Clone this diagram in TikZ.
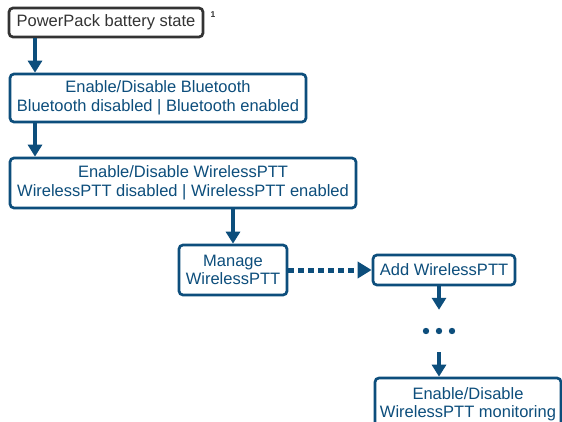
\documentclass[tikz,border=0pt]{standalone}
\usepackage{fontspec}
\setmainfont{Liberation Sans}
\usetikzlibrary{arrows.meta,calc}
\definecolor{mblue}{HTML}{0D4E7C}
\definecolor{mgray}{HTML}{333333}
\begin{document}
\begin{tikzpicture}[x=1pt,y=1pt,
  box/.style={draw=mblue,text=mblue,line width=2.7pt,rounded corners=4pt,align=center,inner sep=0pt,
    font=\fontsize{16.5}{18.5}\selectfont},
  graybox/.style={box,draw=mgray,text=mgray},
  flow/.style={draw=mblue,line width=4.2pt,-{Triangle[width=14pt,length=12pt]}},
  dotflow/.style={draw=mblue,line width=5pt,dash pattern=on 6pt off 4pt,-{Triangle[width=16pt,length=14pt]}}]
\useasboundingbox (0,0) rectangle (562,-422);
\fill[white] (0,0) rectangle (562,-422);
\node[graybox,minimum width=194pt,minimum height=29pt] (b1) at (106,-22.5) {PowerPack battery state};
\node[text=mgray,font=\fontsize{8.5}{9}\selectfont\bfseries,inner sep=0pt] (foot) at (213,-15) {1};
\node[box,minimum width=296pt,minimum height=48pt] (b2) at (158,-98) {Enable/Disable Bluetooth\\Bluetooth disabled | Bluetooth enabled};
\node[box,minimum width=346pt,minimum height=50pt] (b3) at (183,-183) {Enable/Disable WirelessPTT\\WirelessPTT disabled | WirelessPTT enabled};
\node[box,minimum width=108pt,minimum height=50pt] (b4) at (233,-270) {Manage\\WirelessPTT};
\node[box,minimum width=142pt,minimum height=30pt] (b5) at (444,-270) {Add WirelessPTT};
\node[minimum width=30pt,minimum height=42pt,inner sep=0pt] (dots) at (439,-331) {};
\foreach \dx in {-13,0,13} \fill[mblue] ($(dots.center)+(\dx,0)$) circle (3.2pt);
\node[box,minimum width=186pt,minimum height=52pt] (b6) at (468,-404) {Enable/Disable\\WirelessPTT monitoring};
\coordinate (c1) at (35,0);
\draw[flow] (c1 |- b1.south) -- (c1 |- b2.north);
\draw[flow] (c1 |- b2.south) -- (c1 |- b3.north);
\draw[flow] (b4.north |- b3.south) -- (b4.north);
\draw[dotflow] (b4.east) -- (b5.west);
\draw[flow] (dots.north |- b5.south) -- (dots.north);
\draw[flow] (dots.south) -- (dots.south |- b6.north);
\end{tikzpicture}
\end{document}
